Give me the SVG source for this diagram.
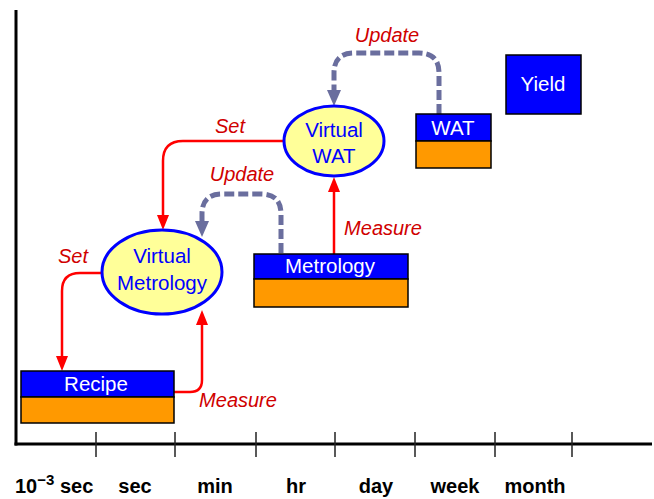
<svg xmlns="http://www.w3.org/2000/svg" width="654" height="499" viewBox="0 0 654 499">
<style>
.box{stroke:#000;stroke-width:1.5}
.top{fill:#0000FF}
.bot{fill:#FF9900}
.btxt{font-family:"Liberation Sans",Arial,sans-serif;font-size:20.5px;fill:#fff;text-anchor:middle}
.ell{fill:#FFFF99;stroke:#0000FF;stroke-width:3}
.etxt{font-family:"Liberation Sans",Arial,sans-serif;font-size:20.5px;fill:#0000FF;text-anchor:middle}
.red{fill:none;stroke:#FF0000;stroke-width:2.5}
.dash{fill:none;stroke:#6A6E9E;stroke-width:5;stroke-dasharray:10 4}
.lbl{font-family:"Liberation Sans",Arial,sans-serif;font-size:20px;font-style:italic;fill:#D00000;text-anchor:middle}
.ax{font-family:"Liberation Sans",Arial,sans-serif;font-size:20px;font-weight:bold;fill:#000;text-anchor:middle}
.axs{font-family:"Liberation Sans",Arial,sans-serif;font-size:20px;font-weight:bold;fill:#000;text-anchor:start}
</style>
<defs>
<marker id="ar" markerUnits="userSpaceOnUse" markerWidth="16" markerHeight="14" refX="0" refY="6" orient="auto" overflow="visible">
<path d="M0,0 L15,6 L0,12 Z" fill="#FF0000"/>
</marker>
<marker id="ad" markerUnits="userSpaceOnUse" markerWidth="18" markerHeight="16" refX="0" refY="7" orient="auto" overflow="visible">
<path d="M0,0 L16,7 L0,14 Z" fill="#6A6E9E"/>
</marker>
</defs>
<g id="axes">
<line x1="16" y1="10" x2="16" y2="445.5" stroke="#000" stroke-width="3"/>
<line x1="14.5" y1="444" x2="652" y2="444" stroke="#000" stroke-width="3"/>
<g stroke="#222" stroke-width="1.5">
<line x1="96" y1="432" x2="96" y2="457"/>
<line x1="175" y1="432" x2="175" y2="457"/>
<line x1="256" y1="432" x2="256" y2="457"/>
<line x1="335" y1="432" x2="335" y2="457"/>
<line x1="415" y1="432" x2="415" y2="457"/>
<line x1="495" y1="432" x2="495" y2="457"/>
<line x1="572" y1="432" x2="572" y2="457"/>
</g>
<text class="axs" x="15" y="493">10<tspan font-size="15" dy="-8">−3</tspan><tspan dy="8"> sec</tspan></text>
<text class="ax" x="135" y="493">sec</text>
<text class="ax" x="215" y="493">min</text>
<text class="ax" x="296" y="493">hr</text>
<text class="ax" x="376" y="493">day</text>
<text class="ax" x="455" y="493">week</text>
<text class="ax" x="535" y="493">month</text>
</g>
<g id="connectors">
<path class="red" d="M284,141 H183 Q163,141 163,161 V215" marker-end="url(#ar)"/>
<path class="red" d="M102,273 H80 Q62,273 62,291 V356" marker-end="url(#ar)"/>
<path class="red" d="M174,392 H190 Q202,392 202,380 V325" marker-end="url(#ar)"/>
<path class="red" d="M334,254 V192" marker-end="url(#ar)"/>
<path class="dash" d="M281,253 V214 Q281,194 261,194 H222 Q202,194 202,214 V221" marker-end="url(#ad)"/>
<path class="dash" d="M439,114 V73 Q439,53 419,53 H354 Q334,53 334,73 V90" marker-end="url(#ad)"/>
<text class="lbl" x="230" y="133">Set</text>
<text class="lbl" x="73" y="263">Set</text>
<text class="lbl" x="238" y="407">Measure</text>
<text class="lbl" x="383" y="235">Measure</text>
<text class="lbl" x="242" y="181">Update</text>
<text class="lbl" x="387" y="42">Update</text>
</g>
<g id="recipe">
<rect class="box top" x="21" y="371" width="153" height="26"/>
<rect class="box bot" x="21" y="397" width="153" height="26"/>
<text class="btxt" x="96" y="391">Recipe</text>
</g>
<g id="metrology">
<rect class="box top" x="254" y="254" width="154" height="25"/>
<rect class="box bot" x="254" y="279" width="154" height="28"/>
<text class="btxt" x="330" y="273">Metrology</text>
</g>
<g id="wat">
<rect class="box top" x="416" y="114" width="75" height="27"/>
<rect class="box bot" x="416" y="141" width="75" height="27"/>
<text class="btxt" x="453" y="135">WAT</text>
</g>
<g id="yield">
<rect class="box top" x="506" y="55" width="75" height="59"/>
<text class="btxt" x="543" y="91">Yield</text>
</g>
<g id="virtual-metrology">
<ellipse class="ell" cx="162" cy="272" rx="60" ry="42"/>
<text class="etxt" x="162" y="263">Virtual</text>
<text class="etxt" x="162" y="290">Metrology</text>
</g>
<g id="virtual-wat">
<ellipse class="ell" cx="334" cy="141" rx="50" ry="35"/>
<text class="etxt" x="334" y="137">Virtual</text>
<text class="etxt" x="334" y="163">WAT</text>
</g>
</svg>
